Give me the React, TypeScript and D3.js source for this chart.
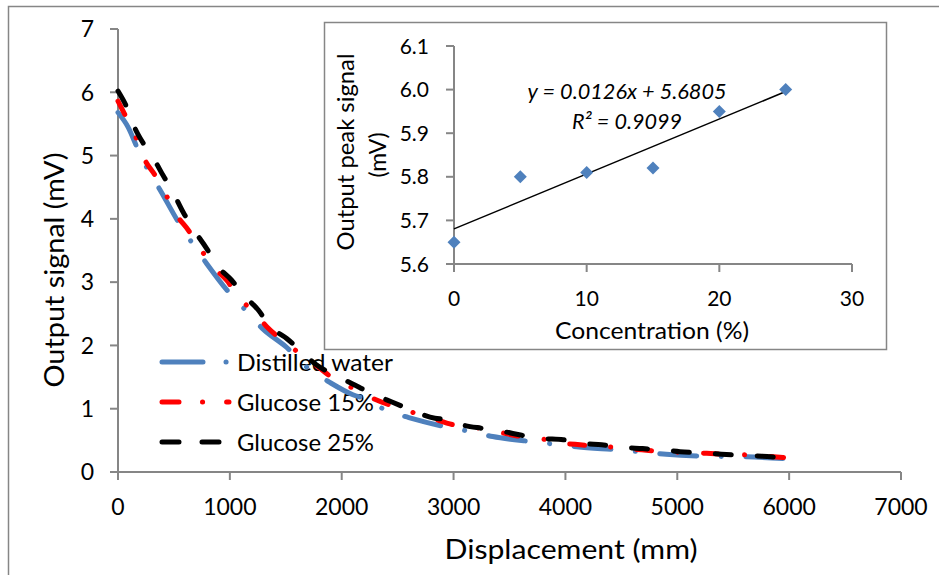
import React from "react";
import * as d3 from "d3";

// ---- Main chart data (Displacement mm, Output signal mV)
const waterD = [0, 90, 180, 270, 375, 550, 670, 790, 1000, 1150, 1290, 1500, 1720, 1880, 2100, 2220, 2400, 2600, 2940, 3150, 3350, 3700, 3900, 4100, 4470, 4670, 4900, 5230, 5620, 5960];
const waterV = [5.68, 5.45, 5.09, 4.77, 4.46, 3.92, 3.6, 3.3, 2.82, 2.54, 2.27, 1.98, 1.61, 1.43, 1.22, 1.15, 0.97, 0.86, 0.71, 0.64, 0.56, 0.48, 0.44, 0.4, 0.35, 0.32, 0.28, 0.25, 0.24, 0.21];

const g15D = [0, 77, 167, 241, 331, 429, 524, 629, 739, 852, 971, 1091, 1225, 1344, 1502, 1642, 1790, 1955, 2134, 2282, 2476, 2655, 2804, 3013, 3207, 3354, 3570, 3773, 3922, 4130, 4369, 4488, 4682, 4880, 5050, 5263, 5426, 5620, 5950];
const g15V = [5.86, 5.59, 5.26, 4.93, 4.69, 4.38, 4.06, 3.82, 3.52, 3.24, 3.03, 2.74, 2.51, 2.27, 2.04, 1.85, 1.66, 1.44, 1.3, 1.16, 1.03, 0.93, 0.85, 0.74, 0.7, 0.65, 0.57, 0.53, 0.47, 0.43, 0.4, 0.38, 0.35, 0.32, 0.31, 0.295, 0.28, 0.27, 0.23];

const g25D = [0, 77, 152, 227, 316, 405, 480, 584, 688, 793, 882, 1016, 1120, 1254, 1359, 1508, 1642, 1776, 1940, 2089, 2268, 2402, 2580, 2833, 2923, 3087, 3251, 3444, 3609, 3787, 3981, 4160, 4324, 4503, 4690, 4860, 5024, 5232, 5396, 5605, 5754, 5948];
const g25V = [6.02, 5.77, 5.43, 5.19, 4.96, 4.68, 4.46, 4.1, 3.8, 3.53, 3.27, 3.03, 2.8, 2.56, 2.3, 2.11, 1.9, 1.69, 1.53, 1.4, 1.24, 1.14, 1.01, 0.85, 0.83, 0.74, 0.69, 0.64, 0.58, 0.53, 0.51, 0.45, 0.43, 0.39, 0.37, 0.35, 0.32, 0.3, 0.28, 0.26, 0.25, 0.225];

const seriesNames = ["Distilled water", "Glucose 15%", "Glucose 25%"];
const xTicks = [0, 1000, 2000, 3000, 4000, 5000, 6000, 7000];
const yTicks = [0, 1, 2, 3, 4, 5, 6, 7];

// ---- Inset data
const concX = [0, 5, 10, 15, 20, 25];
const peakY = [5.65, 5.8, 5.81, 5.82, 5.95, 6.0];
const insetXTicks = [0, 10, 20, 30];
const insetYTicks = [5.6, 5.7, 5.8, 5.9, 6.0, 6.1];
const trendSlope = 0.0126;
const trendIntercept = 5.6805;
const eqText = "y = 0.0126x + 5.6805";
const r2Text = "R\u00B2 = 0.9099";

const FONT = "Lato, 'Open Sans', sans-serif";
const AXIS = "#868686";

export default function App() {
  const x = d3.scaleLinear().domain([0, 7000]).range([118, 901]);
  const y = d3.scaleLinear().domain([0, 7]).range([472, 29]);
  const ix = d3.scaleLinear().domain([0, 30]).range([454, 852]);
  const iy = d3.scaleLinear().domain([5.6, 6.1]).range([264, 46]);

  const line = d3
    .line<[number, number]>()
    .x((d) => x(d[0]))
    .y((d) => y(d[1]))
    .curve(d3.curveMonotoneX);

  const series = [
    { d: waterD, v: waterV, color: "#4F81BD", dash: "37 24.5 0.1 24.5" },
    { d: g15D, v: g15V, color: "#FF0000", dash: "15 26 0.1 26" },
    { d: g25D, v: g25V, color: "#000000", dash: "16 26" },
  ];

  const legendY = [362, 402, 442];
  const legendW = [156, 137, 137];

  return (
    <svg
      width={939}
      height={575}
      style={{ position: "absolute", left: 0, top: 0, background: "#fff" }}
      fontFamily={FONT}
    >
      <rect x={0} y={0} width={939} height={575} fill="#fff" />
      <rect x={8.5} y={6.5} width={945} height={590} fill="none" stroke={AXIS} strokeWidth={1.5} />

      {/* main axes */}
      <line x1={x(0)} x2={x(7000)} y1={y(0)} y2={y(0)} stroke={AXIS} strokeWidth={2} />
      <line x1={x(0)} x2={x(0)} y1={y(0)} y2={y(7)} stroke={AXIS} strokeWidth={2} />
      {xTicks.map((t) => (
        <g key={"xt" + t}>
          <line x1={x(t)} x2={x(t)} y1={y(0)} y2={y(0) + 8} stroke={AXIS} strokeWidth={2} />
          <text x={x(t)} y={y(0) + 43} fontSize={23} textAnchor="middle" fill="#000">
            {t}
          </text>
        </g>
      ))}
      {yTicks.map((t) => (
        <g key={"yt" + t}>
          <line x1={x(0) - 8} x2={x(0)} y1={y(t)} y2={y(t)} stroke={AXIS} strokeWidth={2} />
          <text x={94} y={y(t) + 8.3} fontSize={23} textAnchor="end" fill="#000">
            {t}
          </text>
        </g>
      ))}
      <text x={571} y={559} fontSize={26} textAnchor="middle" textLength={253} lengthAdjust="spacingAndGlyphs">
        Displacement (mm)
      </text>
      <text
        transform="translate(64,270) rotate(-90)"
        fontSize={26}
        textAnchor="middle"
        textLength={235}
        lengthAdjust="spacingAndGlyphs"
      >
        Output signal (mV)
      </text>

      {/* legend */}
      {series.map((s, i) => (
        <g key={"lg" + i}>
          <line
            x1={162}
            x2={229}
            y1={legendY[i]}
            y2={legendY[i]}
            stroke={s.color}
            strokeWidth={5}
            strokeLinecap="round"
            strokeDasharray={i === 0 ? "41 23 0.1 30" : i === 1 ? "17 23.5 0.1 24 8" : "17 23 17"}
          />
          <text x={237} y={legendY[i] + 8.5} fontSize={24} textLength={legendW[i]} lengthAdjust="spacingAndGlyphs">
            {seriesNames[i]}
          </text>
        </g>
      ))}

      {/* curves */}
      {series.map((s, i) => (
        <path
          key={"s" + i}
          d={line(s.d.map((dd, k) => [dd, s.v[k]] as [number, number])) || ""}
          fill="none"
          stroke={s.color}
          strokeWidth={5}
          strokeLinecap="round"
          strokeLinejoin="round"
          strokeDasharray={s.dash}
        />
      ))}

      {/* inset */}
      <rect x={324.5} y={22.5} width={562} height={327} fill="#fff" stroke={AXIS} strokeWidth={1.5} />
      <line x1={ix(0)} x2={ix(30)} y1={iy(5.6)} y2={iy(5.6)} stroke={AXIS} strokeWidth={2} />
      <line x1={ix(0)} x2={ix(0)} y1={iy(5.6)} y2={iy(6.1)} stroke={AXIS} strokeWidth={2} />
      {insetXTicks.map((t) => (
        <g key={"ixt" + t}>
          <line x1={ix(t)} x2={ix(t)} y1={iy(5.6)} y2={iy(5.6) + 8} stroke={AXIS} strokeWidth={2} />
          <text x={ix(t)} y={iy(5.6) + 42} fontSize={21} textAnchor="middle">
            {t}
          </text>
        </g>
      ))}
      {insetYTicks.map((t) => (
        <g key={"iyt" + t}>
          <line x1={ix(0) - 8} x2={ix(0)} y1={iy(t)} y2={iy(t)} stroke={AXIS} strokeWidth={2} />
          <text x={429} y={iy(t) + 7.6} fontSize={21} textAnchor="end">
            {t.toFixed(1)}
          </text>
        </g>
      ))}
      <text x={652} y={339} fontSize={23} textAnchor="middle" textLength={194} lengthAdjust="spacingAndGlyphs">
        Concentration (%)
      </text>
      <text transform="translate(354,152) rotate(-90)" fontSize={23} textAnchor="middle" textLength={197} lengthAdjust="spacingAndGlyphs">
        Output peak signal
      </text>
      <text transform="translate(386,155) rotate(-90)" fontSize={23} textAnchor="middle">
        (mV)
      </text>

      {/* trendline */}
      <line
        x1={ix(0)}
        y1={iy(trendIntercept)}
        x2={ix(25)}
        y2={iy(trendIntercept + trendSlope * 25)}
        stroke="#000"
        strokeWidth={1.5}
      />
      {concX.map((c, k) => {
        const cx = ix(c);
        const cy = iy(peakY[k]);
        return (
          <path
            key={"pt" + k}
            d={`M${cx},${cy - 6.5}L${cx + 6.5},${cy}L${cx},${cy + 6.5}L${cx - 6.5},${cy}Z`}
            fill="#4F81BD"
          />
        );
      })}
      <text x={627} y={98.5} fontSize={22} fontStyle="italic" textAnchor="middle" textLength={199} lengthAdjust="spacingAndGlyphs">
        {eqText}
      </text>
      <text x={627} y={128.5} fontSize={22} fontStyle="italic" textAnchor="middle" textLength={110} lengthAdjust="spacingAndGlyphs">
        {r2Text}
      </text>
    </svg>
  );
}
